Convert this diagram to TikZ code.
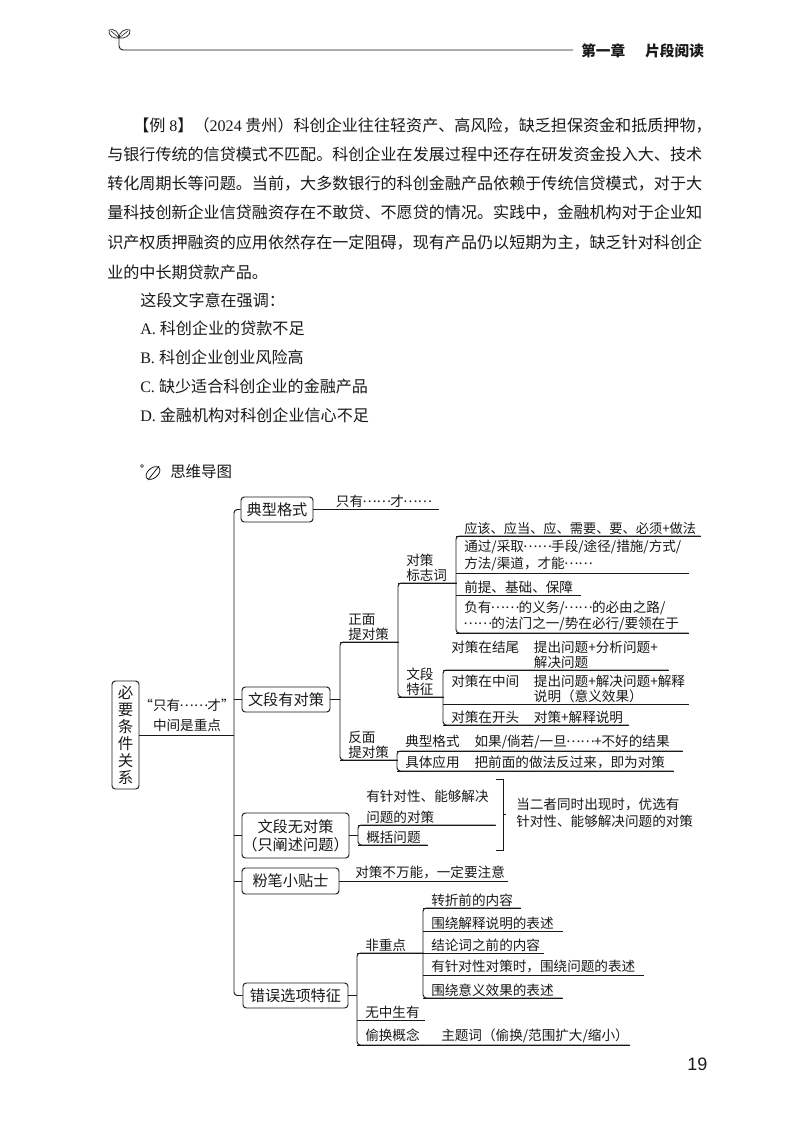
\documentclass[tikz,border=0pt]{standalone}
\usepackage{fontspec}
\setmainfont{Liberation Serif}
\newfontfamily\cjk{Noto Sans CJK SC}
\newfontfamily\numfont{Liberation Sans}
\usetikzlibrary{positioning,calc}
\definecolor{inkblack}{RGB}{25,25,25}
\definecolor{pagewhite}{RGB}{255,255,255}
\newcommand{\px}{0.75pt}
\newcommand{\lat}[1]{{\normalfont #1}}
\newcommand{\dou}{\symbol{"FF0C}}
\newcommand{\mao}{\symbol{"FF1A}}
\newcommand{\zuo}{\symbol{"FF08}}
\newcommand{\you}{\symbol{"FF09}}
\newcommand{\elli}{\makebox[2em]{\raisebox{.3em}[0pt][0pt]{……}}}
\newcommand{\bodyfont}{\cjk\fontsize{12.06pt}{14pt}\selectfont}
\newcommand{\mapfont}{\cjk\fontsize{10.2pt}{11.25pt}\selectfont}
\newcommand{\boxfont}{\cjk\fontsize{11.4pt}{13.5pt}\selectfont}
\newcommand{\twocol}[3]{\makebox[#1][l]{#2}\parbox[t]{160pt}{#3}}
\tikzset{
  bodyline/.style={anchor=west, inner sep=0pt, font=\bodyfont, text=inkblack},
  mapbox/.style={
    draw=inkblack,
    rounded corners=2.5pt,
    line width=0.7pt,
    align=center,
    fill=pagewhite,
    inner sep=0pt,
    text=inkblack,
    font=\boxfont
  },
  treeline/.style={draw=inkblack, line width=0.7pt},
  branch/.style={treeline, rounded corners=2.5pt},
  leaf/.style={
    anchor=south west,
    inner xsep=6pt,
    inner ysep=1pt,
    text width=#1*\px-12pt,
    align=left,
    text=inkblack,
    font=\mapfont,
    append after command={(\tikzlastnode.south west) edge[treeline] (\tikzlastnode.south east)}
  },
  note/.style={inner sep=0pt, align=left, text=inkblack, font=\mapfont}
}
\begin{document}
\begin{tikzpicture}[x=\px, y=-\px]
  \useasboundingbox[fill=pagewhite] (0,0) rectangle (800,1132);

  \draw[treeline, line width=0.5pt] (119,38) .. controls (114,39) and (108,36) .. (109,30) .. controls (114,28) and (119,32) .. (119,38);
  \draw[treeline, line width=0.5pt] (119,38) .. controls (124,39) and (131,36) .. (130,30) .. controls (125,28) and (119,32) .. (119,38);
  \draw[treeline, line width=0.4pt] (119,38) -- (111,31) (119,38) -- (128,31);
  \coordinate (headend) at (573,50);
  \draw[treeline, rounded corners=3pt] (119,38) -- (119,50) -- (headend);
  \node[bodyline, font=\cjk\fontsize{11pt}{13pt}\selectfont\bfseries] (chap) at (581,51) {第一章\hspace{15pt}片段阅读};

  \node[bodyline] (lna) at (133,125) {【例\lat{ 8}】\zuo{}\lat{2024} 贵州\you{}科创企业往往轻资产、高风险\dou{}缺乏担保资金和抵质押物\dou{}};
  \node[bodyline] (lnb) at (107,154) {与银行传统的信贷模式不匹配。科创企业在发展过程中还存在研发资金投入大、技术};
  \node[bodyline] (lnc) at (107,184) {转化周期长等问题。当前\dou{}大多数银行的科创金融产品依赖于传统信贷模式\dou{}对于大};
  \node[bodyline] (lnd) at (107,213) {量科技创新企业信贷融资存在不敢贷、不愿贷的情况。实践中\dou{}金融机构对于企业知};
  \node[bodyline] (lne) at (107,243) {识产权质押融资的应用依然存在一定阻碍\dou{}现有产品仍以短期为主\dou{}缺乏针对科创企};
  \node[bodyline] (lnf) at (107,272) {业的中长期贷款产品。};
  \node[bodyline] (ask) at (140,300) {这段文字意在强调\mao{}};
  \node[bodyline] (opa) at (140,328) {\lat{A. }科创企业的贷款不足};
  \node[bodyline] (opb) at (140,357) {\lat{B. }科创企业创业风险高};
  \node[bodyline] (opc) at (140,386) {\lat{C. }缺少适合科创企业的金融产品};
  \node[bodyline] (opd) at (140,415) {\lat{D. }金融机构对科创企业信心不足};

  \draw[treeline, line width=0.5pt] (142,466) circle (1.5);
  \draw[treeline, line width=0.6pt] (153,473) ellipse [x radius=8, y radius=5, rotate=40];
  \draw[treeline, line width=0.6pt] (148,480) -- (159,466);
  \node[bodyline, font=\cjk\fontsize{11.6pt}{14pt}\selectfont] (title) at (170,472) {思维导图};

  \node[mapbox, minimum width=27*\px, minimum height=108*\px, font=\cjk\fontsize{11.6pt}{12.8pt}\selectfont] (root) at (125.5,735) {必\\要\\条\\件\\关\\系};
  \node[note, align=center] (rta) at (187,705) {“只有\elli 才”};
  \node[note, align=center] (rtb) at (187,725) {中间是重点};
  \coordinate (spine) at (234,735);
  \draw[treeline] (root) -- (spine);

  \node[mapbox, minimum width=72*\px, minimum height=25*\px] (bxa) at (277,509.5) {典型格式};
  \node[mapbox, minimum width=88*\px, minimum height=25*\px] (bxb) at (286,699.5) {文段有对策};
  \node[mapbox, minimum width=107*\px, minimum height=45*\px] (bxc) at (295.5,835.5) {文段无对策\\\zuo{}只阐述问题\you{}};
  \node[mapbox, minimum width=97*\px, minimum height=26*\px] (bxd) at (290.5,881) {粉笔小贴士};
  \node[mapbox, minimum width=105*\px, minimum height=25*\px] (bxe) at (295.5,995.5) {错误选项特征};
  \draw[branch] (bxa.west) -- (bxa.west -| spine) -- (bxe.west -| spine) -- (bxe.west);
  \draw[treeline] (bxb.west) -- (bxb.west -| spine);
  \draw[treeline] (bxc.west) -- (bxc.west -| spine);
  \draw[treeline] (bxd.west) -- (bxd.west -| spine);

  \node[leaf=125] (geshi) at (313,509) {\hspace*{11pt}只有\elli 才\elli};
  \node[leaf=168] (tieshi) at (339,881) {\hspace*{6pt}对策不万能\dou{}一定要注意};

  \node[leaf=58] (zm) at (340,642) {正面\\提对策};
  \node[leaf=57] (fm) at (340,760) {反面\\提对策};
  \draw[branch] (zm.south east) -- (zm.south west) -- (fm.south west) -- (fm.south east);
  \draw[treeline] (bxb.east) -- (bxb.east -| zm.south west);

  \node[leaf=58] (db) at (398,583) {对策\\标志词};
  \node[leaf=45] (wd) at (398,697) {文段\\特征};
  \draw[branch] (db.south east) -- (db.south west) -- (wd.south west) -- (wd.south east);

  \node[leaf=244] (dba) at (456,536) {\fontsize{9.9pt}{11.25pt}\selectfont 应该、应当、应、需要、要、必须+做法};
  \node[leaf=232] (dbb) at (456,573) {通过/采取\elli 手段/途径/措施/方式/\\[1.5pt]方法/渠道\dou{}才能\elli};
  \node[leaf=124] (dbc) at (456,595) {前提、基础、保障};
  \node[leaf=232] (dbd) at (456,633) {负有\elli 的义务/\elli 的必由之路/\\[1pt]\elli 的法门之一/势在必行/要领在于};
  \draw[branch] (dba.south east) -- (dba.south west) -- (dbd.south west) -- (dbd.south east);

  \node[leaf=225] (wda) at (443,670) {\twocol{62pt}{对策在结尾}{提出问题+分析问题+\\解决问题}};
  \node[leaf=245] (wdb) at (443,704) {\twocol{62pt}{对策在中间}{提出问题+解决问题+解释\\说明\zuo{}意义效果\you{}}};
  \node[leaf=185] (wdc) at (443,725) {\twocol{62pt}{对策在开头}{对策+解释说明}};
  \draw[branch] (wda.south east) -- (wda.south west) -- (wdc.south west) -- (wdc.south east);

  \node[leaf=285] (fma) at (397,751) {\twocol{52pt}{典型格式}{如果/倘若/一旦\elli +不好的结果}};
  \node[leaf=276] (fmb) at (397,771) {\twocol{52pt}{具体应用}{把前面的做法反过来\dou{}即为对策}};
  \draw[branch] (fma.south east) -- (fma.south west) -- (fmb.south west) -- (fmb.south east);

  \node[leaf=137] (yz) at (358,825) {有针对性、能够解决\\[4pt]问题的对策};
  \node[leaf=69] (gk) at (358,845) {概括问题};
  \draw[branch] (yz.south east) -- (yz.south west) -- (gk.south west) -- (gk.south east);
  \draw[treeline] (bxc.east) -- (bxc.east -| yz.south west);

  \coordinate (brkt) at (496,779);
  \coordinate (brkb) at (496,850);
  \coordinate (brkm) at (503,814);
  \draw[treeline] (brkt) -- ++(7,0) |- (brkb);
  \draw[treeline] (brkm) -- ++(3,0);
  \node[note, anchor=west] (dang) at (516,813) {当二者同时出现时\dou{}优选有\\[1pt]针对性、能够解决问题的对策};

  \node[leaf=66] (fz) at (357,953) {非重点};
  \node[leaf=67] (wz) at (357,1020) {无中生有};
  \node[leaf=272] (th) at (357,1045) {\twocol{57pt}{偷换概念}{主题词\zuo{}偷换/范围扩大/缩小\you{}}};
  \draw[branch] (fz.south east) -- (fz.south west) -- (th.south west) -- (th.south east);
  \draw[treeline] (bxe.east) -- (bxe.east -| fz.south west);

  \node[leaf=97] (fza) at (423,908) {转折前的内容};
  \node[leaf=139] (fzb) at (423,931) {围绕解释说明的表述};
  \node[leaf=120] (fzc) at (423,953) {结论词之前的内容};
  \node[leaf=220] (fzd) at (423,975) {有针对性对策时\dou{}围绕问题的表述};
  \node[leaf=139] (fze) at (423,998) {围绕意义效果的表述};
  \draw[branch] (fza.south east) -- (fza.south west) -- (fze.south west) -- (fze.south east);

  \node[bodyline, font=\numfont\fontsize{13.5pt}{16pt}\selectfont] (pageno) at (687,1064) {19};
\end{tikzpicture}
\end{document}
